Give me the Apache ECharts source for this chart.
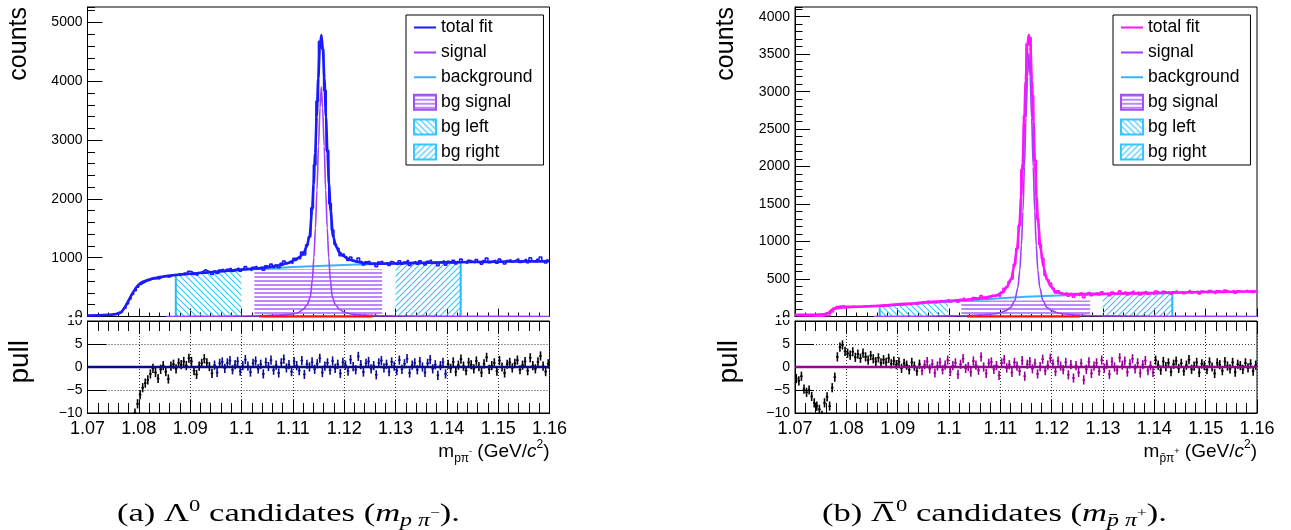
<!DOCTYPE html>
<html><head><meta charset="utf-8">
<script src="https://cdn.jsdelivr.net/npm/echarts@6/dist/echarts.min.js"></script>
<style>html,body{margin:0;padding:0;background:#fff}#c{width:1291px;height:530px}</style>
</head><body><div id="c"></div>
<script>
// ---------------- DATA ----------------
const xMin = 1.07, xMax = 1.16, xStep = 0.01;
const xTickLabels = ['1.07','1.08','1.09','1.1','1.11','1.12','1.13','1.14','1.15','1.16'];
const yTickLabelsA = ['0','1000','2000','3000','4000','5000'];
const yTickLabelsB = ['0','500','1000','1500','2000','2500','3000','3500','4000'];
const pullTickLabels = ['\u221210','\u22125','0','5','10'];
const yMaxA = 5263, yMaxB = 4130;
const binLo = 1.07, binWidth = 0.0005;
const fitRange = [1.0945, 1.14];
const pullErr = 1;

// Lambda0 (a)
const histA = [
 15,17,16,20,19,22,24,23,27,30,
 33,38,48,75,140,215,300,380,440,500,
 545,575,598,612,628,642,648,640,665,678,
 680,668,702,712,702,725,722,738,728,768,
 758,716,700,746,765,795,774,755,716,771,
 730,789,801,766,803,820,768,802,826,770,
 808,848,813,779,836,854,810,842,786,862,
 842,890,834,873,830,906,942,898,929,901,
 988,990,983,1095,1047,1221,1357,1847,2575,3662,
 4678,4548,3842,2821,1919,1469,1229,1160,1034,1067,
 1018,954,1012,951,917,996,933,877,929,939,
 889,909,848,925,940,893,917,870,934,908,
 878,948,888,925,959,867,919,935,891,946,
 911,876,937,962,903,931,863,927,949,874,
 938,911,954,892,934,975,929,900,955,940,
 914,967,930,891,950,993,915,939,958,905,
 975,933,893,952,965,929,959,982,918,949,
 974,913,999,948,927,974,1013,947,910,963];
const pullA = [
 -14,-14,-14,-14,-14,-14,-14,-14,-14,-14,
 -14,-14,-14,-14,-14,-14,-14,-14,-10,-8,
 -6,-4.5,-3.5,-2.8,-1.5,-0.3,-1.2,-2.5,-0.5,0.3,
 -1,-2.6,0.2,0.6,-0.4,0.9,0.5,1.2,0.3,1.9,
 1.2,-0.8,-1.6,0.2,0.8,1.8,0.9,0.1,-1.4,0.4,
 -1.2,0.8,1.1,-0.3,0.9,1.4,-0.6,0.5,1.2,-0.9,
 0.3,1.6,0.2,-1.1,0.8,1.3,-0.4,0.6,-1.5,1.0,
 0.1,1.5,-0.7,0.4,-1.3,0.9,1.7,-0.2,0.5,-1.0,
 1.2,0.3,-0.8,1.4,-1.6,0.6,0.0,1.1,-0.5,0.7,
 1.9,-1.2,0.2,0.9,-0.7,1.3,-0.3,0.6,-1.4,1.0,
 0.4,-0.9,1.6,0.1,-0.6,2.3,0.5,-1.1,0.8,1.2,
 -0.4,0.3,-1.7,0.9,1.4,-0.2,0.6,-1.0,1.1,0.2,
 -0.8,1.5,-0.5,0.7,1.8,-1.3,0.4,0.9,-0.6,1.2,
 0.0,-1.2,0.8,1.6,-0.4,0.5,-1.8,0.3,1.0,-1.5,
 0.6,-0.3,1.1,-1.0,0.4,1.7,0.2,-0.8,1.0,0.5,
 -0.4,1.3,0.1,-1.2,0.7,2.1,-0.5,0.3,0.9,-0.9,
 1.4,0.0,-1.3,0.6,1.0,-0.2,0.8,1.5,-0.6,0.4,
 1.2,-0.8,2.0,0.3,-0.4,1.1,2.4,0.2,-1.0,0.7];
const fitAX = [1.070,1.072,1.074,1.0755,1.0765,1.077,1.0775,1.078,1.0785,1.079,1.0795,1.080,1.0805,1.081,1.082,1.083,1.084,1.085,1.0865,1.088,1.090,1.0925,1.095,1.0975,1.100,1.1025,1.105,1.1075,1.109,1.1105,1.1113,1.1121,1.11265,1.11325,1.11375,1.11405,1.11435,1.11465,1.11495,1.11525,1.11555,1.11585,1.11615,1.11645,1.11675,1.11705,1.11735,1.11785,1.11845,1.11905,1.11985,1.12065,1.1215,1.1225,1.124,1.127,1.130,1.1325,1.135,1.1375,1.140,1.145,1.150,1.155,1.160];
const fitAY = [18,22,28,40,70,120,190,270,350,430,495,545,578,600,630,652,670,685,700,712,728,745,762,780,798,815,835,872,910,960,1010,1074,1180,1357,1800,2250,2774,3400,4050,4550,4785,4550,4050,3400,2774,2250,1800,1357,1190,1090,1030,985,955,930,905,898,902,908,912,917,920,926,932,937,942];
const sigX = [1.0853,1.095,1.100,1.104,1.107,1.109,1.110,1.111,1.112,1.1128,1.1134,1.1138,1.1141,1.1144,1.1147,1.115,1.1153,1.11555,1.1158,1.1161,1.1164,1.1167,1.117,1.1173,1.1177,1.1183,1.1191,1.1201,1.1211,1.1221,1.1241,1.1271,1.1311,1.140,1.150,1.160];
const sigAY = [1,4,8,14,24,32,45,65,120,200,330,620,1000,1500,2150,2900,3550,3907,3550,2900,2150,1500,1000,620,330,200,120,70,48,32,24,14,8,4,2,1];
const bgAX = [1.087,1.090,1.095,1.100,1.105,1.110,1.115,1.120,1.125,1.130,1.135,1.140,1.1427];
const bgAY = [705,726,760,792,818,840,860,876,890,900,910,918,922];
const bgLeftAX = [1.0872,1.090,1.095,1.100], bgLeftAY = [706,726,760,790];
const bgSigAX = [1.1025,1.1274], bgSigAY = [802,802];
const bgRightAX = [1.1300,1.135,1.140,1.1427], bgRightAY = [898,908,916,920];
const redAX = [1.1035,1.1255], redAY = [0,0];

// anti-Lambda0 (b)
const histB = [
 14,12,15,9,8,9,7,5,4,3,
 2,8,12,10,60,100,132,140,142,136,
 135,133,139,131,137,132,140,136,133,141,
 138,135,143,139,145,142,150,146,153,150,
 158,152,162,163,160,172,170,166,178,176,
 196,208,187,205,179,202,215,194,211,229,
 195,215,227,192,227,248,220,229,213,253,
 242,229,278,248,230,270,283,265,287,264,
 327,375,396,466,502,696,906,1218,1961,2675,
 3636,3722,2948,2086,1305,963,776,551,489,448,
 378,315,343,315,292,317,270,307,256,302,
 277,312,251,290,319,276,304,317,286,328,
 298,314,276,326,305,294,342,314,331,289,
 321,342,303,327,288,321,337,299,318,293,
 341,322,303,337,318,333,299,329,342,314,
 334,305,328,351,313,327,342,302,338,330,
 315,347,327,303,344,338,316,352,335,324,
 350,312,344,338,325,350,331,348,320,343];
const pullB = [
 -2.5,-3,-2,-4.8,-5.5,-5,-6.4,-7.8,-8.5,-9.2,
 -10.5,-7.8,-6.5,-8.5,-4.5,-2.2,2.2,4.3,4.8,3.4,
 3.0,2.6,3.3,2.1,2.8,1.9,3.0,2.2,1.5,2.5,
 1.8,1.2,2.0,0.9,1.6,1.0,1.9,0.7,1.3,0.5,
 1.1,-0.3,0.8,0.4,-0.6,1.0,0.2,-0.9,0.6,-0.8,
 0.5,1.2,-0.4,0.7,-1.3,0.2,1.0,-0.6,0.4,1.5,
 -1.0,0.3,0.9,-1.6,0.6,1.8,-0.3,0.1,-1.1,1.3,
 0.4,-0.7,2.2,0.0,-1.4,0.8,1.1,-0.5,0.3,-1.8,
 0.9,1.6,-0.2,0.5,-1.2,1.0,0.2,-0.9,1.4,-2.0,
 0.6,1.2,-0.4,0.8,-1.5,0.1,1.7,-0.8,0.4,1.9,
 0.7,-1.0,1.3,0.2,-0.6,1.0,-1.7,0.5,-2.4,0.3,
 -1.2,0.8,-2.8,-0.5,1.1,-1.4,0.2,0.9,-0.9,1.5,
 -0.3,0.6,-1.6,1.2,0.0,-0.7,2.0,0.4,1.3,-1.1,
 0.7,1.8,-0.4,0.9,-1.3,0.5,1.4,-0.8,0.3,-1.2,
 1.5,0.4,-0.7,1.2,0.1,0.9,-1.0,0.6,1.3,-0.3,
 0.8,-0.9,0.4,1.6,-0.5,0.2,1.0,-1.2,0.7,0.3,
 -0.6,1.1,0.0,-1.4,0.9,0.5,-0.8,1.2,0.2,-0.4,
 1.0,-1.1,0.6,0.3,-0.5,0.9,-0.2,0.7,-0.9,0.4];
const fitBX = [1.070,1.072,1.074,1.0755,1.0765,1.077,1.0775,1.078,1.079,1.080,1.0825,1.085,1.0875,1.090,1.0925,1.095,1.0975,1.100,1.1025,1.105,1.1075,1.109,1.1105,1.1113,1.1121,1.11265,1.11325,1.11375,1.11405,1.11435,1.11465,1.11495,1.11525,1.11555,1.11585,1.11615,1.11645,1.11675,1.11705,1.11735,1.11785,1.11845,1.11905,1.11985,1.12065,1.1215,1.1225,1.124,1.127,1.130,1.135,1.140,1.145,1.150,1.155,1.160];
const fitBY = [22,22,24,28,45,80,105,112,118,122,130,138,148,162,174,188,198,208,220,235,255,280,320,400,500,650,900,1250,1600,2050,2600,3150,3600,3760,3600,3150,2600,2050,1600,1250,900,650,500,400,335,315,300,297,300,303,309,314,320,326,331,336];
const sigBY = [1,4,8,14,24,36,50,75,120,210,380,620,950,1400,2000,2650,3200,3512,3200,2650,2000,1400,950,620,380,210,120,75,50,36,24,14,8,4,2,1];
const bgBX = [1.0865,1.090,1.095,1.100,1.105,1.110,1.115,1.120,1.125,1.130,1.135,1.140,1.1435];
const bgBY = [140,158,178,198,220,242,262,278,290,298,305,310,313];
const bgLeftBX = [1.0865,1.090,1.095,1.0998], bgLeftBY = [140,156,176,195];
const bgSigBX = [1.1024,1.1275], bgSigBY = [215,215];
const bgRightBX = [1.1299,1.135,1.140,1.1435], bgRightBY = [298,305,310,313];
const redBX = [1.1035,1.1255], redBY = [0,0];

// ---------------- STYLE / LAYOUT ----------------
const SANS = '"Liberation Sans", Arial, Helvetica, sans-serif';
const SERIF = '"Liberation Serif", "DejaVu Serif", serif';
const TOP_Y = 7, TOP_H = 309.5, PULL_Y = 321, PULL_H = 92, PANEL_W = 462;

function makePattern(kind, color) {
  const c = document.createElement('canvas');
  const s = kind === 'h' ? 4 : 6;
  c.width = s; c.height = s;
  const g = c.getContext('2d');
  if (kind === 'h') { g.fillStyle = color; g.fillRect(0, 0, s, 2); }
  else {
    g.strokeStyle = color; g.lineWidth = 1.1; g.beginPath();
    if (kind === 'bs') { g.moveTo(-1,-1); g.lineTo(s+1,s+1); g.moveTo(-1,s-1); g.lineTo(1,s+1); g.moveTo(s-1,-1); g.lineTo(s+1,1); }
    else { g.moveTo(-1,s+1); g.lineTo(s+1,-1); g.moveTo(-1,1); g.lineTo(1,-1); g.moveTo(s-1,s+1); g.lineTo(s+1,s-1); }
    g.stroke();
  }
  return {image: c, repeat: 'repeat'};
}
const patH = makePattern('h', '#bb88ff');
const patBS = makePattern('bs', '#33c6ff');
const patFS = makePattern('fs', '#33c6ff');
const LINE_ICON = 'path://M0,0h0.05v0.05h-0.05zM0,6.5h22v2h-22zM21.95,14.95h0.05v0.05h-0.05z';

const binCenters = histA.map((_, i) => +(binLo + binWidth * (i + 0.5)).toFixed(5));
const pairs = (xs, ys) => xs.map((x, i) => [x, ys[i]]);
const labelFmt = (labels, start, step) => v => {
  const i = Math.round((v - start) / step);
  return (Math.abs(start + i * step - v) < step * 1e-3 && labels[i] !== undefined) ? labels[i] : '';
};

const panels = [
  {left: 87.5, ymax: yMaxA, yStep: 1000, yMinor: 200, yLabels: yTickLabelsA, fitColor: '#1a1aff', pullColor: '#0b0b8f',
   hist: histA, pull: pullA, fitX: fitAX, fitY: fitAY, sigY: sigAY, bgX: bgAX, bgY: bgAY,
   bl: [bgLeftAX, bgLeftAY], bs: [bgSigAX, bgSigAY], br: [bgRightAX, bgRightAY], red: [redAX, redAY],
   legLeft: 406, titleX: 19, pullX: 20, sub: 'p\u03c0', subsup: '-'},
  {left: 795, ymax: yMaxB, yStep: 500, yMinor: 100, yLabels: yTickLabelsB, fitColor: '#ff14ff', pullColor: '#990099',
   hist: histB, pull: pullB, fitX: fitBX, fitY: fitBY, sigY: sigBY, bgX: bgBX, bgY: bgBY,
   bl: [bgLeftBX, bgLeftBY], bs: [bgSigBX, bgSigBY], br: [bgRightBX, bgRightBY], red: [redBX, redBY],
   legLeft: 1113, titleX: 726, pullX: 729, sub: 'p\u0304\u03c0', subsup: '+'}
];

const grid = [], xAxis = [], yAxis = [], series = [], legend = [], title = [], graphics = [];
const tickCol = '#000';
panels.forEach((p, k) => {
  grid.push({left: p.left, top: TOP_Y, width: PANEL_W, height: TOP_H, show: true, borderColor: '#000', borderWidth: 1, backgroundColor: 'transparent'});
  grid.push({left: p.left, top: PULL_Y, width: PANEL_W, height: PULL_H, show: true, borderColor: '#000', borderWidth: 1, backgroundColor: 'transparent'});
  const xBase = {type: 'value', min: xMin, max: xMax, interval: xStep, splitLine: {show: false},
    axisLine: {show: true, onZero: false, lineStyle: {color: '#000', width: 1}}};
  xAxis.push(Object.assign({}, xBase, {gridIndex: 2*k, position: 'bottom',
    axisTick: {show: true, inside: true, length: 8, lineStyle: {color: tickCol}},
    minorTick: {show: true, splitNumber: 5, length: 4, lineStyle: {color: tickCol}},
    axisLabel: {show: false}}));
  xAxis.push(Object.assign({}, xBase, {gridIndex: 2*k+1, position: 'bottom',
    axisTick: {show: true, inside: true, length: 13, lineStyle: {color: tickCol}},
    minorTick: {show: true, splitNumber: 5, length: 10, lineStyle: {color: tickCol}},
    axisLabel: {show: true, margin: 7, fontSize: 18, fontFamily: SANS, color: '#000',
      formatter: labelFmt(xTickLabels, xMin, xStep)},
    splitLine: {show: true, lineStyle: {color: '#333', width: 1, type: [1, 2]}}}));
  xAxis.push(Object.assign({}, xBase, {gridIndex: 2*k+1, position: 'top',
    axisTick: {show: true, inside: true, length: 13, lineStyle: {color: tickCol}},
    minorTick: {show: true, splitNumber: 5, length: 10, lineStyle: {color: tickCol}},
    axisLabel: {show: false}}));
  yAxis.push({type: 'value', gridIndex: 2*k, position: 'left', min: 0, max: p.ymax, interval: p.yStep,
    axisLine: {show: true, onZero: false, lineStyle: {color: '#000'}},
    axisTick: {show: true, inside: true, length: 15, lineStyle: {color: tickCol}},
    axisLabel: {show: true, margin: 5, fontSize: 14, fontFamily: SANS, color: '#000', showMaxLabel: false,
      formatter: labelFmt(p.yLabels, 0, p.yStep)},
    splitLine: {show: false}});
  yAxis.push({type: 'value', gridIndex: 2*k, position: 'left', offset: 0, min: 0, max: p.ymax, interval: p.yMinor,
    axisLine: {show: false}, axisTick: {show: true, inside: true, length: 7.5, lineStyle: {color: tickCol}},
    axisLabel: {show: false}, splitLine: {show: false}});
  yAxis.push({type: 'value', gridIndex: 2*k+1, position: 'left', min: -10, max: 10, interval: 5,
    axisLine: {show: true, onZero: false, lineStyle: {color: '#000'}},
    axisTick: {show: true, inside: true, length: 19, lineStyle: {color: tickCol}},
    axisLabel: {show: true, margin: 5, fontSize: 14, fontFamily: SANS, color: '#000',
      formatter: labelFmt(pullTickLabels, -10, 5)},
    splitLine: {show: true, lineStyle: {color: '#333', width: 1, type: [1, 2]}}});

  const xi = 3*k, yi = 3*k;
  const base = {type: 'line', xAxisIndex: xi, yAxisIndex: yi, symbol: 'none', silent: true, animation: false};
  series.push(Object.assign({}, base, {name: 'bg left', data: pairs(p.bl[0], p.bl[1]), z: 1,
    lineStyle: {width: 0, opacity: 0}, areaStyle: {color: patBS, opacity: 1}}));
  series.push(Object.assign({}, base, {name: 'bg signal', data: pairs(p.bs[0], p.bs[1]), z: 1,
    lineStyle: {width: 0, opacity: 0}, areaStyle: {color: patH, opacity: 1}}));
  series.push(Object.assign({}, base, {name: 'bg right', data: pairs(p.br[0], p.br[1]), z: 1,
    lineStyle: {width: 0, opacity: 0}, areaStyle: {color: patFS, opacity: 1}}));
  series.push(Object.assign({}, base, {name: 'edgeL' + k, z: 2,
    data: [[p.bl[0][0], 0], [p.bl[0][0], p.bl[1][0]]], lineStyle: {color: '#2bb8f0', width: 2}}));
  const nR = p.br[0].length - 1;
  series.push(Object.assign({}, base, {name: 'edgeR' + k, z: 2,
    data: [[p.br[0][nR], 0], [p.br[0][nR], p.br[1][nR]]], lineStyle: {color: '#2bb8f0', width: 2}}));
  series.push(Object.assign({}, base, {name: 'background', data: pairs(p.bgX, p.bgY), z: 3, smooth: 0.3,
    lineStyle: {color: '#3cb2ff', width: 2}}));
  series.push(Object.assign({}, base, {name: 'data' + k, data: pairs(binCenters, p.hist), z: 4, step: 'middle',
    lineStyle: {color: p.fitColor, width: 1.6}}));
  series.push(Object.assign({}, base, {name: 'total fit', data: pairs(p.fitX, p.fitY), z: 5, smooth: 0.3, smoothMonotone: 'x',
    lineStyle: {color: p.fitColor, width: 2.6}}));
  series.push(Object.assign({}, base, {name: 'signal', data: pairs(sigX, p.sigY), z: 6, smooth: 0.3, smoothMonotone: 'x',
    lineStyle: {color: '#a040f8', width: 1.6}}));
  series.push(Object.assign({}, base, {name: 'red' + k, data: pairs(p.red[0], p.red[1]), z: 7,
    lineStyle: {color: '#ff1010', width: 2.5}}));
  const col = p.pullColor;
  series.push({type: 'custom', name: 'pull' + k, xAxisIndex: 3*k+1, yAxisIndex: 3*k+2, clip: true, silent: true, z: 3,
    data: binCenters.map((c, i) => [c, p.pull[i]]),
    renderItem: (params, api) => {
      const x = api.value(0), v = api.value(1);
      const a = api.coord([x, v + pullErr]), b = api.coord([x, v - pullErr]);
      const l = api.coord([x - binWidth / 2, v]), r = api.coord([x + binWidth / 2, v]);
      const inFit = x > fitRange[0] && x < fitRange[1];
      const st = {stroke: inFit ? col : '#000', lineWidth: 1.6};
      return {type: 'group', children: [
        {type: 'line', shape: {x1: a[0], y1: a[1], x2: b[0], y2: b[1]}, style: st},
        {type: 'line', shape: {x1: l[0], y1: l[1], x2: r[0], y2: r[1]}, style: st}]};
    }});
  series.push(Object.assign({}, base, {name: 'zero' + k, xAxisIndex: 3*k+1, yAxisIndex: 3*k+2, z: 4,
    data: [[xMin, 0], [xMax, 0]], lineStyle: {color: col, width: 2.5}}));

  legend.push({left: p.legLeft, top: 15, orient: 'vertical', itemGap: 6.9, itemWidth: 22, itemHeight: 15,
    padding: [3.5, 11, 4, 7], borderColor: '#000', borderWidth: 1, borderRadius: 0, backgroundColor: '#fff',
    selectedMode: false, textStyle: {fontSize: 17.5, fontFamily: SANS, color: '#000'},
    data: [
      {name: 'total fit', icon: LINE_ICON, itemStyle: {color: p.fitColor, borderWidth: 0}},
      {name: 'signal', icon: LINE_ICON, itemStyle: {color: '#a040f8', borderWidth: 0}},
      {name: 'background', icon: LINE_ICON, itemStyle: {color: '#3cb2ff', borderWidth: 0}},
      {name: 'bg signal', icon: 'rect', itemStyle: {color: patH, borderColor: '#a050f0', borderWidth: 2}},
      {name: 'bg left', icon: 'rect', itemStyle: {color: patBS, borderColor: '#33c6ff', borderWidth: 2}},
      {name: 'bg right', icon: 'rect', itemStyle: {color: patFS, borderColor: '#33c6ff', borderWidth: 2}}
    ]});

  title.push({text: '{n|m}{s|' + p.sub + '}{ss|' + p.subsup + '}{n| (GeV/}{i|c}{sp|2}{n|)}',
    right: 1291 - (p.left + PANEL_W), top: 439, padding: 0,
    textStyle: {fontFamily: SANS, fontWeight: 'normal', rich: {
      n: {fontFamily: SANS, fontWeight: 'normal', fontSize: 19, lineHeight: 26, verticalAlign: 'middle', color: '#000'},
      i: {fontFamily: SANS, fontWeight: 'normal', fontSize: 19, fontStyle: 'italic', lineHeight: 26, verticalAlign: 'middle', color: '#000'},
      s: {fontFamily: SANS, fontWeight: 'normal', fontSize: 12, lineHeight: 12, verticalAlign: 'bottom', color: '#000'},
      ss: {fontFamily: SANS, fontWeight: 'normal', fontSize: 9, lineHeight: 9, verticalAlign: 'middle', color: '#000'},
      sp: {fontFamily: SANS, fontWeight: 'normal', fontSize: 12, lineHeight: 12, verticalAlign: 'top', color: '#000'}}}});

  graphics.push({type: 'text', x: p.titleX, y: 7, rotation: Math.PI / 2, z: 50,
    style: {text: 'counts', fontSize: 25, fontFamily: SANS, fill: '#000', align: 'right', verticalAlign: 'middle'}});
  graphics.push({type: 'text', x: p.pullX, y: 340, rotation: Math.PI / 2, z: 50,
    style: {text: 'pull', fontSize: 28, fontFamily: SANS, fill: '#000', align: 'right', verticalAlign: 'middle'}});
  graphics.push({type: 'rect', z: 100, shape: {x: p.left - 48, y: 317.3, width: 46, height: 2.6}, style: {fill: '#fff'}});
});

// captions (serif, horizontally widened like the reference's TeX font)
const CAP_SIZE = 26, CAP_SCALE = 1.33, CAP_Y = 514;
const capRich = {
  n: {fontFamily: SERIF, fontSize: CAP_SIZE, lineHeight: 32, verticalAlign: 'middle', fill: '#000'},
  i: {fontFamily: SERIF, fontSize: CAP_SIZE, fontStyle: 'italic', lineHeight: 32, verticalAlign: 'middle', fill: '#000'},
  sup: {fontFamily: SERIF, fontSize: 17, lineHeight: 17, verticalAlign: 'top', fill: '#000'},
  sub: {fontFamily: SERIF, fontSize: 18, fontStyle: 'italic', lineHeight: 18, verticalAlign: 'bottom', fill: '#000'},
  subsup: {fontFamily: SERIF, fontSize: 13, lineHeight: 13, verticalAlign: 'middle', fill: '#000'}
};
const captions = [
  {x: 117, pre: '(a) ', tail: '{sup|0}{n| candidates (}{i|m}{sub|p \u03c0}{subsup|\u2212}{n|).}', bar: false},
  {x: 822, pre: '(b) ', tail: '{sup|0}{n| candidates (}{i|m}{sub|p\u0304 \u03c0}{subsup|+}{n|).}', bar: true}
];
const mctx = document.createElement('canvas').getContext('2d');
mctx.font = CAP_SIZE + 'px "Liberation Serif"';
captions.forEach(c => {
  graphics.push({type: 'text', x: c.x, y: CAP_Y, scaleX: CAP_SCALE, z: 50,
    style: {text: '{n|' + c.pre + '\u039b}' + c.tail, rich: capRich, align: 'left', verticalAlign: 'middle',
      fontFamily: SERIF, fontSize: CAP_SIZE, fill: '#000'}});
  if (c.bar) {
    const w0 = mctx.measureText(c.pre).width * CAP_SCALE, wL = mctx.measureText('\u039b').width * CAP_SCALE;
    graphics.push({type: 'line', z: 50, shape: {x1: c.x + w0 + wL * 0.12, y1: CAP_Y - 11.5, x2: c.x + w0 + wL * 0.88, y2: CAP_Y - 11.5},
      style: {stroke: '#000', lineWidth: 1.3}});
  }
});

const chart = echarts.init(document.getElementById('c'), null, {renderer: 'canvas', width: 1291, height: 530});
chart.setOption({animation: false, backgroundColor: '#fff', grid, xAxis, yAxis, series, legend, title,
  graphic: {elements: graphics}});
</script></body></html>
